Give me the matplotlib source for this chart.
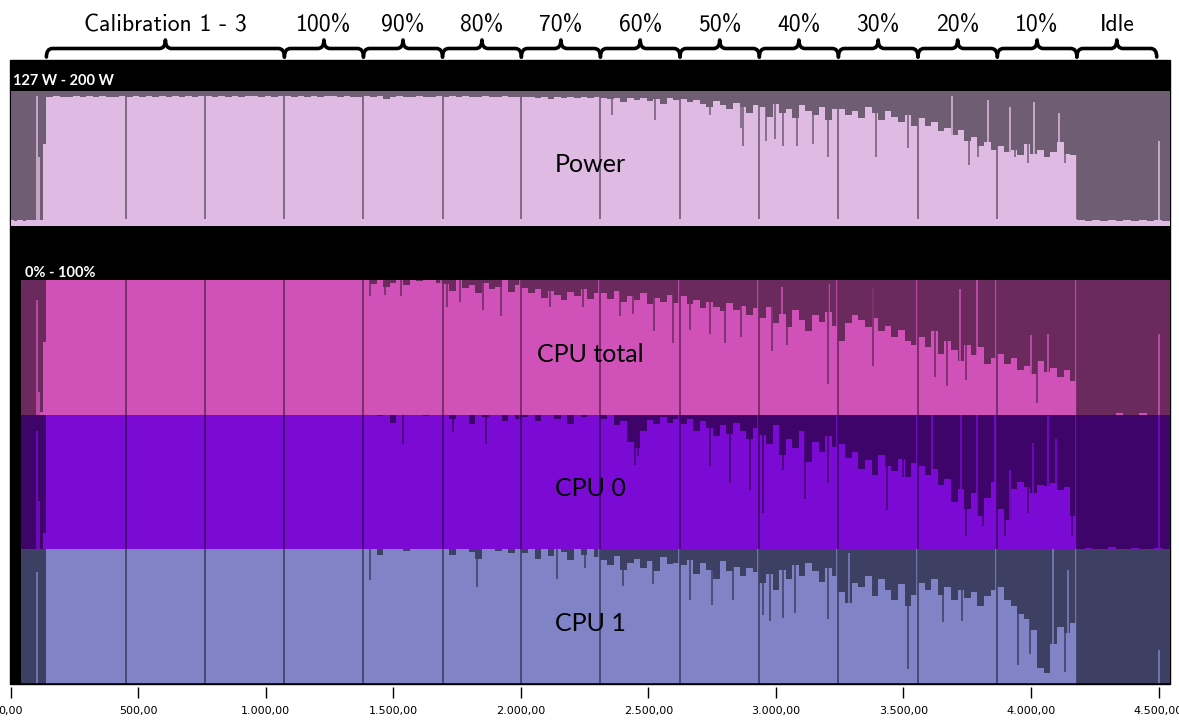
import numpy as np
import matplotlib
matplotlib.use("Agg")
import matplotlib.pyplot as plt
from matplotlib.path import Path
from matplotlib.patches import PathPatch, Rectangle
from matplotlib.transforms import blended_transform_factory
from matplotlib.ticker import FuncFormatter

# time axis (seconds), phase borders
phase_edges = [0, 140, 452, 762, 1073, 1383, 1693, 2002, 2312, 2624, 2935, 3245, 3557, 3868, 4180, 4545]
t_max = 4545
cpu_start = 40

brace_edges = [140, 1073, 1383, 1693, 2002, 2312, 2624, 2935, 3245, 3557, 3868, 4180, 4493]
brace_labels = ["Calibration 1 - 3", "100%", "90%", "80%", "70%", "60%", "50%",
                "40%", "30%", "20%", "10%", "Idle"]

# 12 samples per phase: pre, cal1, cal2, cal3, 100% ... 10%, idle
power = [
    130, 129.5, 130, 130, 129.5, 130, 130, 130, 130, 130, 130, 171,
    196.5, 197, 196.5, 196.8, 197, 196.5, 197, 196.6, 197, 196.8, 196.5, 197,
    196.8, 197, 196.6, 197, 196.8, 197.2, 196.5, 197, 196.8, 197, 196.6, 197,
    197, 196.8, 197.2, 196.8, 197, 196.6, 197, 197.2, 196.8, 197, 196.8, 197,
    197, 196.8, 197.2, 196.6, 197, 196.8, 197, 197.2, 196.8, 197, 196.6, 196.8,
    197, 196.5, 197, 195.5, 196.8, 197, 196.5, 196.8, 197, 196.6, 196.8, 197,
    196.8, 197, 196.5, 197, 196.8, 196.5, 197, 196.6, 196.8, 197, 196.5, 196.8,
    196.5, 196.8, 196, 196.5, 195.5, 196.8, 196.2, 196.5, 196, 196.8, 196.3, 196.5,
    196, 195.5, 196.2, 194, 195.8, 195, 196, 194.5, 195.5, 193, 195.8, 195,
    195.5, 194, 195, 193, 191, 194.5, 192.5, 190, 193.5, 191, 188, 192,
    191, 186, 193, 188, 190, 185, 192, 189, 187, 191, 184, 190,
    190, 187, 189, 185, 191, 188, 184, 189, 186, 183, 187, 181,
    185, 181, 183, 178, 180, 176, 179, 173, 175, 170, 172, 168,
    170, 167, 168, 165, 171, 166, 168, 164, 167, 172, 166, 165,
    130, 129.5, 130, 129.8, 130, 129.5, 130, 129.6, 130, 129.8, 130, 129.5,
]

cpu_total = [
    0, 0, 0, 0, 0, 0, 0, 0, 0, 0, 2, 54,
    100, 100, 100, 100, 100, 100, 100, 100, 100, 100, 100, 100,
    100, 100, 100, 100, 100, 100, 100, 100, 100, 100, 100, 100,
    100, 100, 100, 100, 100, 100, 100, 100, 100, 100, 100, 100,
    100, 100, 100, 100, 100, 100, 100, 100, 100, 100, 100, 100,
    100, 97, 100, 95, 98, 100, 96, 100, 99, 100, 100, 98,
    97, 92, 100, 94, 96, 90, 98, 93, 95, 100, 91, 96,
    94, 90, 93, 87, 92, 89, 85, 91, 88, 93, 86, 90,
    90, 86, 92, 84, 88, 85, 90, 82, 87, 84, 89, 83,
    88, 82, 85, 79, 84, 80, 77, 83, 78, 81, 74, 79,
    72, 80, 68, 75, 65, 78, 70, 62, 74, 69, 76, 66,
    55, 68, 74, 70, 65, 72, 62, 66, 58, 63, 55, 52,
    58, 50, 62, 45, 55, 48, 40, 52, 44, 50, 38, 42,
    45, 38, 42, 33, 36, 30, 40, 32, 35, 28, 33, 25,
    0, 0, 0, 0, 0, 1, 0, 0, 1, 0, 0, 0,
]

cpu0 = [
    0, 0, 0, 0, 0, 0, 0, 0, 0, 0, 0, 12,
    100, 100, 100, 100, 100, 100, 100, 100, 100, 100, 100, 100,
    100, 100, 100, 100, 100, 100, 100, 100, 100, 100, 100, 100,
    100, 100, 100, 100, 100, 100, 100, 100, 100, 100, 100, 100,
    100, 100, 100, 100, 100, 100, 100, 100, 100, 100, 100, 100,
    100, 100, 99, 100, 94, 100, 100, 100, 100, 99, 100, 100,
    100, 97, 100, 100, 93, 100, 98, 100, 100, 95, 100, 97,
    98, 100, 95, 100, 100, 97, 100, 93, 100, 98, 100, 100,
    97, 100, 92, 95, 80, 75, 88, 96, 93, 98, 94, 97,
    93, 97, 88, 95, 90, 84, 92, 86, 94, 88, 82, 90,
    85, 78, 92, 70, 82, 75, 88, 65, 80, 72, 84, 76,
    78, 68, 72, 60, 66, 55, 70, 62, 58, 67, 54, 64,
    62, 55, 60, 48, 52, 35, 45, 30, 42, 25, 38, 50,
    30, 22, 45, 50, 46, 42, 48, 47, 49, 44, 46, 25,
    0, 1, 0, 0, 2, 0, 0, 1, 0, 0, 1, 0,
]

cpu1 = [
    0, 0, 0, 0, 0, 0, 0, 0, 0, 0, 0, 0,
    100, 100, 100, 100, 100, 100, 100, 100, 100, 100, 100, 100,
    100, 100, 100, 100, 100, 100, 100, 100, 100, 100, 100, 100,
    100, 100, 100, 100, 100, 100, 100, 100, 100, 100, 100, 100,
    100, 100, 100, 100, 100, 100, 100, 100, 100, 100, 100, 100,
    100, 100, 96, 100, 100, 100, 99, 100, 100, 100, 100, 100,
    100, 96, 100, 100, 98, 93, 100, 100, 99, 100, 97, 100,
    97, 100, 93, 100, 95, 100, 98, 92, 100, 96, 100, 94,
    92, 88, 95, 85, 90, 93, 86, 91, 84, 94, 89, 90,
    88, 92, 82, 90, 85, 78, 91, 84, 87, 80, 86, 83,
    75, 82, 70, 85, 78, 88, 80, 90, 84, 76, 86, 80,
    68, 60, 75, 72, 80, 65, 78, 70, 62, 74, 58, 66,
    75, 70, 78, 66, 72, 62, 70, 64, 68, 58, 65, 70,
    72, 62, 58, 52, 48, 40, 12, 8, 30, 42, 38, 45,
    0, 0, 0, 0, 0, 0, 0, 0, 0, 0, 0, 0,
]

# single-sample spikes up (start-up, idle, short peaks)
power_spike_t = [104, 112, 4502, 3689, 3831, 3917, 4012, 4110]
power_spike_v = [197, 164, 173, 197, 195, 191, 194, 188]
total_spike_t = [104, 112, 4502, 3022, 3208, 3380, 3721, 3787, 4002, 4066]
total_spike_v = [85, 17, 60, 95, 97, 94, 93, 100, 59, 60]
cpu0_spike_t = [104, 112, 4502, 3610, 3724, 3787, 3858, 3917, 4007, 4066, 4100]
cpu0_spike_v = [88, 36, 100, 100, 100, 100, 100, 59, 79, 100, 82]
cpu1_spike_t = [104, 4502, 3285, 4086, 4145]
cpu1_spike_v = [83, 25, 97, 100, 85]

# single-sample dips down
power_dip_t = [2356, 2526, 2741, 2865, 2871, 2960, 2996, 3028, 3081, 3145, 3204,
               3392, 3516, 3757, 3792, 3937, 3988, 4133]
power_dip_v = [187, 184, 187, 180, 170, 173, 174, 170, 170, 171, 164,
               164, 169, 160, 164, 164, 161, 161]
total_dip_t = [1408, 1467, 1532, 1709, 1761, 1852, 1924, 2114, 2244, 2389, 2440, 2522,
               2597, 2663, 2741, 2800, 2865, 2983, 3042, 3204, 3380, 3623, 3669, 3747, 4022]
total_dip_v = [88, 89, 88, 80, 84, 78, 73, 80, 80, 73, 75, 62,
               53, 63, 60, 53, 58, 47, 52, 23, 36, 28, 21, 26, 9]
cpu0_dip_t = [1538, 1734, 1865, 2447, 2459, 2741, 2820, 2898, 2950, 3027, 3113, 3204,
              3434, 3498, 3747, 3812, 3898, 3988, 4159]
cpu0_dip_v = [78, 87, 78, 63, 69, 62, 49, 44, 27, 59, 37, 49,
              29, 54, 10, 17, 10, 27, 10]
cpu1_dip_t = [1408, 1827, 2140, 2251, 2399, 2518, 2663, 2748, 2832, 2950, 2976, 3027,
              3074, 3204, 3517, 3655, 3728, 3948, 3996, 4133]
cpu1_dip_v = [77, 72, 78, 86, 73, 74, 62, 59, 62, 51, 47, 49,
              53, 48, 11, 46, 47, 14, 22, 9]

W, H = 1179, 723


def fx(px):
    return px / W


def fy(py):
    return 1 - py / H


def de_fmt(v, pos):
    s = "{:,.2f}".format(v)
    return s.replace(",", "X").replace(".", ",").replace("X", ".")


fig = plt.figure(figsize=(W / 100, H / 100), dpi=100)
fig.patches.append(Rectangle((fx(10), fy(684)), fx(1170) - fx(10), fy(60) - fy(684),
                             transform=fig.transFigure, color="black", zorder=-5))

left = fx(10.7)
width = fx(1170) - left


def panel(top, bottom):
    ax = fig.add_axes([left, fy(bottom), width, fy(top) - fy(bottom)])
    ax.set_facecolor("black")
    ax.set_zorder(2)
    for s in ax.spines.values():
        s.set_visible(False)
    ax.set_xticks([])
    ax.set_yticks([])
    ax.set_xlim(0, t_max)
    return ax


xs = np.concatenate([np.linspace(a, b, 13)[:-1] for a, b in zip(phase_edges[:-1], phase_edges[1:])]
                    + [[phase_edges[-1]]])
bounds = np.array(phase_edges[2:15])


def draw_series(ax, vals, lo, hi, start, light, dark, sp_t, sp_v, dip_t, dip_v, cpu=True):
    ax.set_ylim(lo, hi)
    ax.axvspan(start, t_max, color=dark, lw=0)
    ys = np.append(vals, vals[-1])
    ax.fill_between(xs, lo, ys, step="post", color=light, lw=0)
    ax.vlines(sp_t, lo, sp_v, color=light, lw=1.1)
    ax.vlines(dip_t, dip_v, hi, color=dark, lw=1.1)
    if cpu:
        ax.vlines(bounds - 5, lo, hi, color=light, lw=1.1)
        ax.vlines(bounds, lo, hi, color=dark, lw=1.2)
    else:
        ax.vlines(bounds, lo + 3.5, hi, color=dark, lw=1.2)


ax_p = panel(90.7, 225.7)
draw_series(ax_p, power, 127, 200, 0, "#dfbbe3", "#6f5d73", power_spike_t, power_spike_v,
            power_dip_t, power_dip_v, cpu=False)

ax_t = panel(280, 414.7)
draw_series(ax_t, cpu_total, 0, 100, cpu_start, "#d052b8", "#6a2a5e", total_spike_t, total_spike_v,
            total_dip_t, total_dip_v)

ax_0 = panel(414.7, 549.3)
draw_series(ax_0, cpu0, 0, 100, cpu_start, "#7b0bd4", "#3f046a", cpu0_spike_t, cpu0_spike_v,
            cpu0_dip_t, cpu0_dip_v)

ax_1 = panel(549.3, 684)
draw_series(ax_1, cpu1, 0, 100, cpu_start, "#8084c6", "#3e4063", cpu1_spike_t, cpu1_spike_v,
            cpu1_dip_t, cpu1_dip_v)

for ax, name in [(ax_p, "Power"), (ax_t, "CPU total"), (ax_0, "CPU 0"), (ax_1, "CPU 1")]:
    ax.text(0.5, 0.45, name, transform=ax.transAxes, ha="center", va="center",
            fontsize=18, family=["Lato", "DejaVu Sans"], color="black")

fig.text(fx(13), fy(85), "127 W - 200 W", color="white", fontsize=10.5, weight="bold",
         family=["Lato", "DejaVu Sans"], va="baseline", zorder=5)
fig.text(fx(25), fy(277), "0% - 100%", color="white", fontsize=10.5, weight="bold",
         family=["Lato", "DejaVu Sans"], va="baseline", zorder=5)

# bottom axis
ax_1.spines["bottom"].set_visible(True)
ax_1.spines["bottom"].set_color("black")
ax_1.spines["bottom"].set_linewidth(1.2)
sec = ax_1.secondary_xaxis(-0.022)
sec.set_xticks(np.arange(0, 4501, 500))
sec.xaxis.set_major_formatter(FuncFormatter(de_fmt))
sec.tick_params(length=8, width=1, direction="out", pad=6, labelsize=8)
sec.spines["bottom"].set_visible(False)

# braces above the phases
bt = blended_transform_factory(ax_p.transData, fig.transFigure)
r = 24
yb, ye, yt = fy(48.5), fy(57), fy(40)
for a, b, lab in zip(brace_edges[:-1], brace_edges[1:], brace_labels):
    m = (a + b) / 2
    verts = [(a, ye), (a, yb), (a + r, yb), (m - r, yb), (m, yb), (m, yt),
             (m, yb), (m + r, yb), (b - r, yb), (b, yb), (b, ye)]
    codes = [Path.MOVETO, Path.CURVE3, Path.CURVE3, Path.LINETO, Path.CURVE3, Path.CURVE3,
             Path.CURVE3, Path.CURVE3, Path.LINETO, Path.CURVE3, Path.CURVE3]
    ax_p.add_patch(PathPatch(Path(verts, codes), transform=bt, fill=False, lw=2.6,
                             color="black", clip_on=False, capstyle="round", joinstyle="round"))
    ax_p.text(m, fy(31), lab, transform=bt, ha="center", va="baseline", fontsize=17,
              family=["cmss10", "DejaVu Sans"], color="black")

fig.savefig("out.png", dpi=100, facecolor="white")
